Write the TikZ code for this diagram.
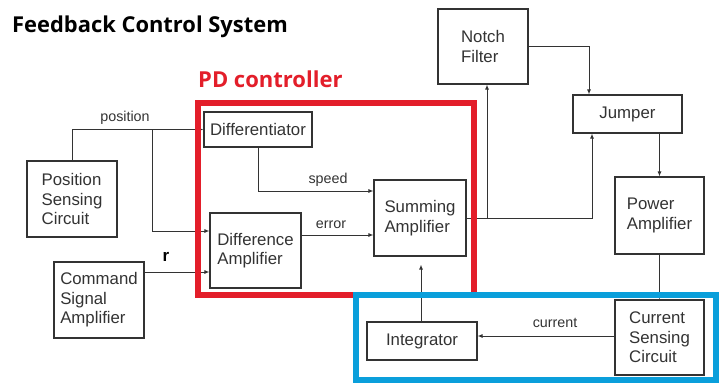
\documentclass[tikz,border=0pt]{standalone}
\usepackage{fontspec}
\setmainfont{Liberation Sans}
\newfontfamily\titlefont{Open Sans}
\usetikzlibrary{arrows.meta,calc}
\definecolor{ink}{HTML}{333333}
\definecolor{pdred}{HTML}{E31E2A}
\definecolor{loopblue}{HTML}{0A9FDB}
\begin{document}
\begin{tikzpicture}[x=1pt,y=-1pt,
  blk/.style={draw=ink,line width=1.1pt,align=left,inner sep=0pt,
    font=\fontsize{16.8}{19.5}\selectfont,text=ink},
  arr/.style={draw=ink,line width=1pt,-{Latex[length=5pt,width=4pt]}},
  ln/.style={draw=ink,line width=1pt},
  lbl/.style={font=\fontsize{14.3}{16}\selectfont,text=ink,inner sep=0pt}]
\useasboundingbox (0,0) rectangle (720,383);
\fill[white] (0,0) rectangle (720,383);
% title texts
\node[anchor=base west,inner sep=0pt,font=\titlefont\bfseries\fontsize{21.9}{26}\selectfont] (title) at (12,32) {Feedback Control System};
\node[anchor=base west,inner sep=0pt,text=pdred,font=\titlefont\bfseries\fontsize{22}{26}\selectfont] (pdlbl) at (198,87) {PD controller};
% blocks
\node[blk,minimum width=108pt,minimum height=35pt] (diff) at (258,129.5) {Differentiator};
\node[blk,minimum width=90pt,minimum height=76pt] (pos) at (72,199) {Position\\Sensing\\Circuit};
\node[blk,minimum width=90pt,minimum height=76pt] (cmd) at (99,300) {Command\\Signal\\Amplifier};
\node[blk,minimum width=91pt,minimum height=75pt] (dA) at (255.5,250.5) {Difference\\Amplifier};
\node[blk,minimum width=92pt,minimum height=76pt] (sum) at (420,218) {Summing\\Amplifier};
\node[blk,minimum width=90pt,minimum height=75pt] (notch) at (483,46.5) {Notch\\Filter};
\node[blk,minimum width=109pt,minimum height=38pt] (jump) at (627.5,114) {Jumper};
\node[blk,minimum width=89pt,minimum height=77pt] (pwr) at (659.5,215.5) {Power\\Amplifier};
\node[blk,minimum width=89pt,minimum height=75pt] (cur) at (659.5,337.5) {Current\\Sensing\\Circuit};
\node[blk,minimum width=110pt,minimum height=38pt] (integ) at (422,341) {Integrator};
% branch points
\coordinate (bpos) at (152,130);
\coordinate (bsum) at (487,218);
% connectors
\draw[arr] (pos.north) |- (diff.west);
\draw[arr] (bpos) |- ([yshift=19.5pt]dA.west);
\draw[arr] ([yshift=28pt]cmd.east) -- ([yshift=-21.5pt]dA.west);
\draw[arr] (diff.south) |- ([yshift=27pt]sum.west);
\draw[arr] ([yshift=15.5pt]dA.east) -- ([yshift=-17pt]sum.west);
\draw[arr] (sum.east) -| ([xshift=-35.5pt]jump.south);
\draw[arr] (bsum) -- (bsum |- notch.south);
\draw[arr] (notch.east) -| ([xshift=-38.5pt]jump.north);
\draw[arr] (pwr.north |- jump.south) -- (pwr.north);
\draw[arr] (pwr.south) -- (cur.north);
\draw[arr] ([yshift=1.5pt]cur.west) -- ([yshift=1.5pt]cur.west -| integ.east);
\draw[arr,shorten >=8pt] ([xshift=-1pt]integ.north) -- ([xshift=-1pt]integ.north |- sum.south);
% connector labels
\node[lbl] (lpos) at (125,118) {position};
\node[lbl] (lspeed) at (328,180) {speed};
\node[lbl] (lerr) at (331,225) {error};
\node[inner sep=0pt,font=\bfseries\fontsize{17}{20}\selectfont] (lr) at (166,257) {r};
\node[lbl] (lcur) at (555,323) {current};
% highlight frames
\draw[pdred,line width=6pt] (198,103) rectangle (474,295);
\draw[loopblue,line width=6pt] (356,295) rectangle (716,380);
\end{tikzpicture}
\end{document}
